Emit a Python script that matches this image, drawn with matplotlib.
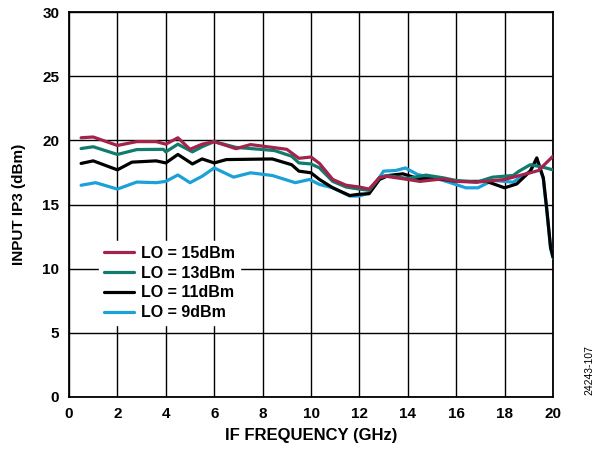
import matplotlib
matplotlib.use("Agg")
import matplotlib.pyplot as plt

plt.rcParams['font.family'] = ['Liberation Sans', 'DejaVu Sans']
plt.rcParams['font.weight'] = 'bold'

labels = ["LO = 15dBm", "LO = 13dBm", "LO = 11dBm", "LO = 9dBm"]
colors = ["#A3234A", "#137A6E", "#000000", "#1BA0D8"]

freq_15 = [0.5, 1.0, 2.0, 2.8, 3.6, 4.0, 4.5, 5.0, 5.5, 6.0, 6.9, 7.5, 8.4, 9.0, 9.5, 10.0, 10.35, 10.9, 11.45, 12.0, 12.4, 12.83, 13.1, 14.0, 14.5, 15.46, 16.0, 16.85, 18.0, 18.5, 19.06, 19.4, 20.0]
ip3_15 = [20.2, 20.26, 19.6, 19.9, 19.9, 19.7, 20.2, 19.3, 19.7, 19.9, 19.35, 19.67, 19.45, 19.3, 18.6, 18.7, 18.2, 16.95, 16.5, 16.36, 16.2, 17.1, 17.2, 16.95, 16.8, 17.0, 16.8, 16.74, 16.95, 17.2, 17.47, 17.65, 18.76]

freq_13 = [0.5, 1.0, 2.0, 2.8, 3.9, 4.0, 4.5, 5.1, 5.5, 6.0, 6.9, 7.9, 8.5, 9.2, 9.5, 10.0, 10.35, 10.9, 11.45, 12.0, 12.4, 12.83, 13.1, 14.0, 14.75, 15.46, 16.0, 16.85, 17.5, 18.35, 18.6, 19.06, 19.6, 20.0]
ip3_13 = [19.36, 19.5, 18.9, 19.28, 19.3, 19.1, 19.7, 19.1, 19.5, 19.9, 19.45, 19.3, 19.2, 18.76, 18.24, 18.16, 17.85, 16.8, 16.36, 16.2, 16.1, 17.08, 17.26, 17.03, 17.29, 17.08, 16.87, 16.74, 17.13, 17.26, 17.6, 18.1, 17.9, 17.7]

freq_11 = [0.5, 1.0, 2.0, 2.6, 3.6, 4.0, 4.5, 5.1, 5.5, 6.0, 6.5, 8.4, 9.2, 9.5, 10.0, 10.35, 10.9, 11.6, 12.0, 12.4, 12.83, 13.2, 13.8, 14.4, 15.46, 16.0, 17.25, 18.0, 18.5, 19.06, 19.33, 19.6, 19.75, 19.9, 20.0]
ip3_11 = [18.2, 18.4, 17.7, 18.3, 18.4, 18.24, 18.9, 18.16, 18.55, 18.24, 18.5, 18.55, 18.1, 17.6, 17.47, 16.95, 16.3, 15.7, 15.8, 15.84, 16.95, 17.26, 17.39, 17.03, 16.95, 16.8, 16.8, 16.3, 16.6, 17.6, 18.63, 17.08, 14.5, 11.65, 10.9]

freq_9 = [0.5, 1.1, 2.0, 2.8, 3.6, 4.0, 4.5, 5.0, 5.5, 6.0, 6.8, 7.5, 8.4, 9.35, 9.94, 10.35, 10.9, 11.6, 12.0, 12.4, 13.0, 13.5, 13.9, 14.4, 15.46, 16.4, 16.9, 17.5, 18.35, 19.06, 19.33, 19.6, 19.75, 19.9, 20.0]
ip3_9 = [16.5, 16.7, 16.2, 16.75, 16.7, 16.8, 17.3, 16.7, 17.2, 17.85, 17.13, 17.47, 17.26, 16.7, 16.95, 16.56, 16.3, 15.66, 15.66, 15.9, 17.6, 17.65, 17.85, 17.34, 16.88, 16.3, 16.3, 16.88, 16.74, 17.6, 18.5, 17.0, 14.4, 11.6, 10.85]

xticks = [0, 2, 4, 6, 8, 10, 12, 14, 16, 18, 20]
yticks = [0, 5, 10, 15, 20, 25, 30]

fig = plt.figure(figsize=(6.03, 4.51), dpi=100)
ax = fig.add_axes([69/603, 54/451, 484/603, 385/451])

series = [(freq_15, ip3_15), (freq_13, ip3_13), (freq_11, ip3_11), (freq_9, ip3_9)]
order = [3, 2, 1, 0]
handles = {}
for i in order:
    f, v = series[i]
    ln, = ax.plot(f, v, color=colors[i], lw=2.3, solid_joinstyle='round', solid_capstyle='round', label=labels[i], zorder=3 + (3 - i))
    handles[i] = ln

ax.set_xlim(0, 20)
ax.set_ylim(0, 30)
ax.set_xticks(xticks)
ax.set_yticks(yticks)
ax.grid(True, color='black', lw=1.0)
ax.set_axisbelow(True)
ax.tick_params(length=0, labelsize=11, pad=7)
for lab in ax.get_xticklabels() + ax.get_yticklabels():
    lab.set_fontweight('bold')
for s in ax.spines.values():
    s.set_linewidth(1.3)

ax.set_xlabel("IF FREQUENCY (GHz)", fontsize=12, fontweight='bold', labelpad=5)
ax.set_ylabel("INPUT IP3 (dBm)", fontsize=11, fontweight='bold', labelpad=12)

leg = ax.legend([handles[i] for i in range(4)], labels, loc='upper left',
                bbox_to_anchor=(0.062, 0.405), frameon=True, fontsize=11.5,
                handlelength=1.9, handletextpad=0.45, labelspacing=0.3,
                borderpad=0.3, borderaxespad=0)
leg.get_frame().set_edgecolor('white')
leg.get_frame().set_facecolor('white')
leg.get_frame().set_alpha(1)
leg.set_zorder(10)
for t in leg.get_texts():
    t.set_fontweight('bold')

fig.text(0.978, 0.125, "24243-107", rotation=90, fontsize=7.5, fontweight='normal', ha='center', va='bottom')

fig.savefig("out.png", dpi=100)
